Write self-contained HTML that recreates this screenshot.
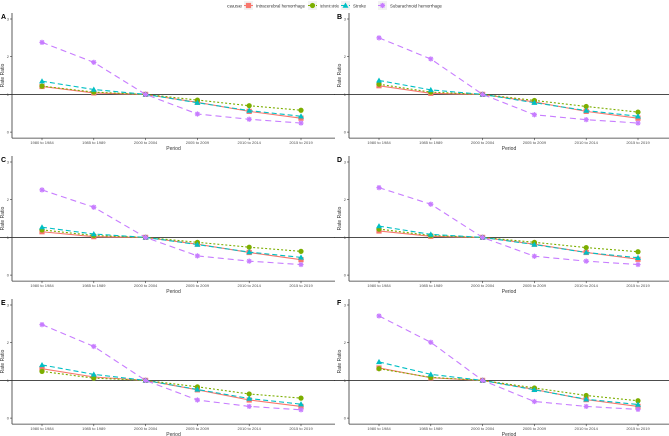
<!DOCTYPE html>
<html><head><meta charset="utf-8"><style>
body{margin:0;background:#fff}
svg{display:block;font-family:"Liberation Sans",sans-serif}
</style></head><body>
<svg id="chart" width="669" height="436" viewBox="0 0 669 436"></svg>
<script>
const categories=["1980 to 1984","1985 to 1989","2000 to 2004","2005 to 2009","2010 to 2014","2015 to 2019"];
const causes=["Intracerebral hemorrhage","Ischemic stroke","Stroke","Subarachnoid hemorrhage"];
const yTicks=[0,1,2,3];
const panelLabels=["A","B","C","D","E","F"];
const ihA=[1.21,1.04,1,0.79,0.55,0.37], isA=[1.22,1.06,1,0.85,0.70,0.58], stA=[1.35,1.13,1,0.78,0.57,0.42], sahA=[2.38,1.85,1,0.48,0.34,0.24];
const ihB=[1.23,1.03,1,0.80,0.55,0.37], isB=[1.27,1.06,1,0.84,0.68,0.53], stB=[1.37,1.12,1,0.78,0.57,0.42], sahB=[2.50,1.94,1,0.46,0.33,0.24];
const ihC=[1.15,1.02,1,0.82,0.60,0.41], isC=[1.20,1.05,1,0.87,0.74,0.63], stC=[1.27,1.09,1,0.81,0.61,0.47], sahC=[2.26,1.80,1,0.51,0.37,0.28];
const ihD=[1.17,1.03,1,0.82,0.60,0.42], isD=[1.22,1.05,1,0.87,0.73,0.62], stD=[1.30,1.08,1,0.81,0.60,0.46], sahD=[2.32,1.88,1,0.50,0.37,0.28];
const ihE=[1.31,1.09,1,0.75,0.48,0.31], isE=[1.24,1.06,1,0.83,0.64,0.53], stE=[1.41,1.16,1,0.76,0.52,0.37], sahE=[2.48,1.90,1,0.48,0.31,0.22];
const ihF=[1.33,1.07,1,0.76,0.49,0.31], isF=[1.31,1.08,1,0.80,0.60,0.46], stF=[1.49,1.16,1,0.75,0.50,0.36], sahF=[2.71,2.01,1,0.44,0.31,0.23];
const panels=[[ihA,isA,stA,sahA],[ihB,isB,stB,sahB],[ihC,isC,stC,sahC],[ihD,isD,stD,sahD],[ihE,isE,stE,sahE],[ihF,isF,stF,sahF]];
const colors=["#F8766D","#7CAE00","#00BFC4","#C77CFF"];
const dashes=["","2,2","5,3","6,4"];
const NS="http://www.w3.org/2000/svg";
const svg=document.getElementById("chart");
function mk(tag,attrs,parent){const e=document.createElementNS(NS,tag);for(const k in attrs)e.setAttribute(k,attrs[k]);(parent||svg).appendChild(e);return e;}
function marker(g,k,x,y,c){
  let m;
  if(k===0)m=mk("rect",{x:x-2.6,y:y-2.6,width:5.2,height:5.2,fill:c},g);
  else if(k===1)m=mk("circle",{cx:x,cy:y,r:2.6,fill:c},g);
  else if(k===2)m=mk("polygon",{points:`${x},${y-3} ${x+3},${y+2.2} ${x-3},${y+2.2}`,fill:c},g);
  else{m=mk("path",{d:`M${x-2.6},${y}H${x+2.6}M${x},${y-2.6}V${y+2.6}M${x-1.9},${y-1.9}L${x+1.9},${y+1.9}M${x+1.9},${y-1.9}L${x-1.9},${y+1.9}`,stroke:c,"stroke-width":1.2},g);}
  return m;
}
// legend
const lg=mk("g",{});


mk("text",{x:227,y:7.5,"font-size":4.5,fill:"#333",textLength:15,lengthAdjust:"spacingAndGlyphs"},lg).textContent="cause";
const lx=[248,312,345,382];
const lw=[49,19,13,52];
causes.forEach((c,k)=>{
  const e=mk("g",{},lg);
  
  
  mk("rect",{x:lx[k]-4,y:1,width:9,height:9,fill:"#f2f2f2"},e);
  mk("line",{x1:lx[k]-4,x2:lx[k]+5,y1:5.5,y2:5.5,stroke:colors[k],"stroke-width":1,"stroke-dasharray":dashes[k]},e);
  marker(e,k,lx[k]+0.5,5.5,colors[k]);
  mk("text",{x:lx[k]+8,y:7.5,"font-size":4.2,fill:"#333",textLength:lw[k],lengthAdjust:"spacingAndGlyphs"},e).textContent=c;
});
panels.forEach((ser,p)=>{
  const col=p%2,row=Math.floor(p/2);
  const ax=col?349:12, right=col?669:335;
  const y3=19+row*143, unit=37.7, y0=y3+3*unit;
  const cx0=ax+30, step=51.8;
  const X=i=>cx0+i*step, Y=v=>y0-v*unit;
  const g=mk("g",{});
  
  
  mk("text",{x:col?337:1,y:y3,"font-size":7,"font-weight":"bold",fill:"#000"},g).textContent=panelLabels[p];
  mk("line",{x1:ax,x2:ax,y1:y3-6,y2:y0+6,stroke:"#333","stroke-width":0.8},g);
  mk("line",{x1:ax,x2:right,y1:y0+6,y2:y0+6,stroke:"#333","stroke-width":0.8},g);
  yTicks.forEach(t=>{
    mk("line",{x1:ax-2,x2:ax,y1:Y(t),y2:Y(t),stroke:"#333","stroke-width":0.6},g);
    mk("text",{x:ax-3,y:Y(t)+1.5,"font-size":4,fill:"#4d4d4d","text-anchor":"end"},g).textContent=t;
  });
  categories.forEach((c,i)=>{
    mk("line",{x1:X(i),x2:X(i),y1:y0+6,y2:y0+8,stroke:"#333","stroke-width":0.6},g);
    mk("text",{x:X(i),y:y0+12,"font-size":4,fill:"#4d4d4d","text-anchor":"middle"},g).textContent=c;
  });
  const xt=mk("text",{x:(ax+right)/2,y:y0+18,"font-size":5,fill:"#333","text-anchor":"middle"},g);
  xt.textContent="Period";
  
  
  const yt=mk("text",{x:0,y:0,"font-size":5,fill:"#333","text-anchor":"middle",transform:`translate(${ax-8},${Y(1.5)}) rotate(-90)`},g);
  yt.textContent="Rate Ratio";
  
  
  mk("line",{x1:col?334:0,x2:right,y1:Y(1),y2:Y(1),stroke:"#333","stroke-width":0.9},g);
  ser.forEach((vals,k)=>{
    const s=mk("g",{},g);
    
    
    mk("polyline",{points:vals.map((v,i)=>X(i)+","+Y(v)).join(" "),fill:"none",stroke:colors[k],"stroke-width":1.1,"stroke-dasharray":dashes[k]},s);
    vals.forEach((v,i)=>{const m=marker(s,k,X(i),Y(v),colors[k]);
      
      });
  });
});
</script>
</body></html>
